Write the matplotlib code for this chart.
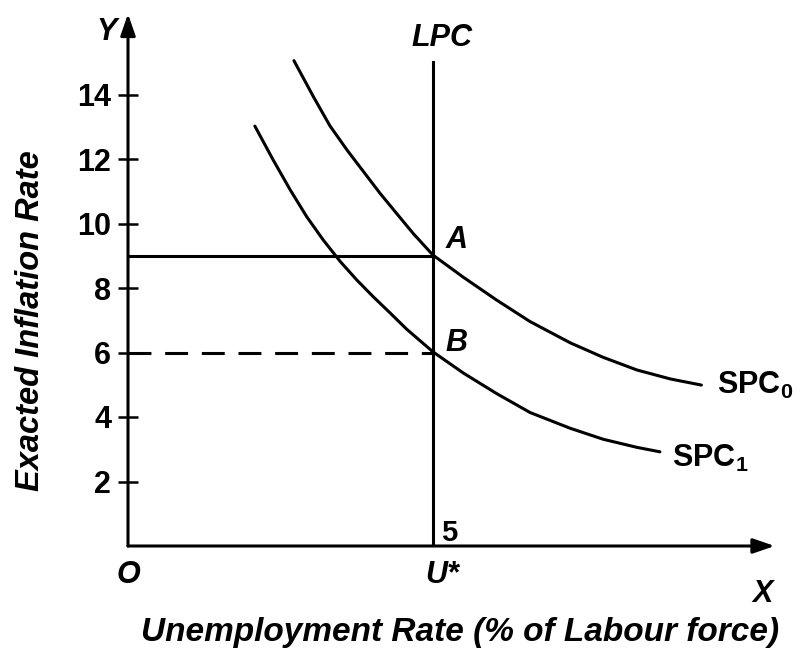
import numpy as np
import matplotlib.pyplot as plt

# short-run phillips curves (x = unemployment, y = inflation)
spc0_x = [2.72, 3.04, 3.31, 3.59, 3.86, 4.13, 4.40, 4.68, 5.00, 5.50, 6.04, 6.59, 7.25, 7.79, 8.34, 8.89, 9.40]
spc0_y = [15.05, 13.93, 13.03, 12.28, 11.61, 10.94, 10.32, 9.68, 9.02, 8.33, 7.63, 6.96, 6.30, 5.85, 5.46, 5.18, 4.99]
spc1_x = [2.08, 2.38, 2.66, 2.93, 3.20, 3.48, 3.75, 4.02, 4.30, 4.57, 5.00, 5.50, 6.04, 6.59, 7.25, 7.79, 8.34, 8.72]
spc1_y = [13.02, 11.97, 11.04, 10.21, 9.49, 8.82, 8.25, 7.73, 7.22, 6.72, 6.02, 5.36, 4.73, 4.14, 3.65, 3.31, 3.06, 2.92]

u_star = 5
lpc_top = 15
pi_a = 9
pi_b = 6
yticks = [2, 4, 6, 8, 10, 12, 14]
x_end = 10.6
y_end = 16.5

plt.rcParams['font.family'] = ['Liberation Sans', 'DejaVu Sans']
plt.rcParams['mathtext.default'] = 'regular'

fig = plt.figure(figsize=(8.04, 6.57), dpi=100)
ax = fig.add_axes([128/804, 111/657, 11*61/804, 17*32.25/657])
ax.set_xlim(0, 11)
ax.set_ylim(0, 17)
for s in ax.spines.values():
    s.set_visible(False)

lw = 2.2
# axes with arrows
ax.annotate('', xy=(x_end, 0), xytext=(0, 0), annotation_clip=False,
            arrowprops=dict(arrowstyle='-|>,head_length=1.3,head_width=0.45', lw=lw,
                            color='black', shrinkA=0, shrinkB=0))
ax.annotate('', xy=(0, y_end), xytext=(0, 0), annotation_clip=False,
            arrowprops=dict(arrowstyle='-|>,head_length=1.3,head_width=0.45', lw=lw,
                            color='black', shrinkA=0, shrinkB=0))

ax.set_xticks([])
ax.set_yticks(yticks)
ax.set_yticklabels([str(t) for t in yticks], fontsize=22, fontweight='bold')
ax.tick_params(axis='y', direction='inout', length=14, width=1.8, pad=5)

# curves
ax.plot(spc0_x, spc0_y, color='black', lw=lw, solid_capstyle='round', solid_joinstyle='round')
ax.plot(spc1_x, spc1_y, color='black', lw=lw, solid_capstyle='round', solid_joinstyle='round')
ax.plot([u_star, u_star], [0, lpc_top], color='black', lw=lw)
ax.plot([0, u_star], [pi_a, pi_a], color='black', lw=lw)
ax.plot([0, u_star], [pi_b, pi_b], color='black', lw=lw, dashes=(7.5, 4.5))

tk = dict(fontsize=22, fontweight='bold', fontstyle='italic')
ax.text(5.15, 15.75, 'LPC', ha='center', va='center', **tk)
ax.text(5.39, 9.49, 'A', ha='center', va='center', **tk)
ax.text(5.38, 6.3, 'B', ha='center', va='center', **tk)
ax.text(u_star + 0.27, 0.4, '5', ha='center', va='center', fontsize=21, fontweight='bold')
ax.text(0.0, -0.9, 'O', ha='center', va='center', **tk)
ax.text(u_star + 0.15, -0.9, 'U*', ha='center', va='center', **tk)
ax.text(-0.35, 15.95, 'Y', ha='center', va='center', **tk)
ax.text(10.4, -1.5, 'X', ha='center', va='center', **tk)
ax.text(spc0_x[-1] + 0.25, spc0_y[-1], 'SPC$_0$', ha='left', va='center', fontsize=22, fontweight='bold')
ax.text(spc1_x[-1] + 0.2, spc1_y[-1] - 0.2, 'SPC$_1$', ha='left', va='center', fontsize=22, fontweight='bold')

ax.text(5.44, -2.67, 'Unemployment Rate (% of Labour force)', ha='center', va='center',
        fontsize=24, fontweight='bold', fontstyle='italic')
ax.text(-1.6, 7.0, 'Exacted Inflation Rate', ha='center', va='center', rotation=90,
        fontsize=23.5, fontweight='bold', fontstyle='italic')

fig.savefig('out.png', dpi=100)
